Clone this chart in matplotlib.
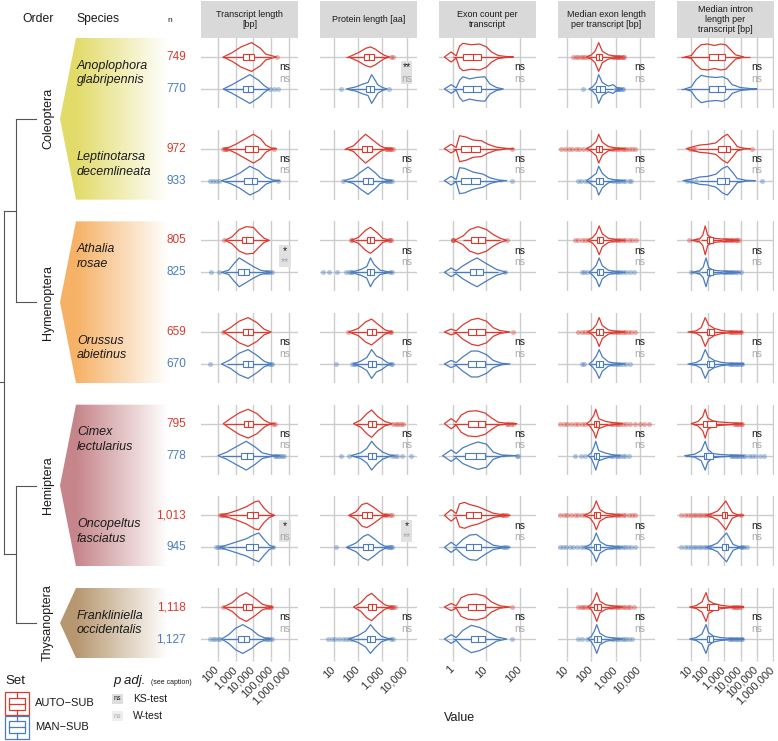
import numpy as np
import matplotlib.pyplot as plt
import matplotlib.colors as mcolors
from matplotlib.patches import Polygon, Rectangle
from matplotlib.transforms import blended_transform_factory, ScaledTranslation

plt.rcParams['font.family'] = ['Liberation Sans', 'DejaVu Sans']

# ---------------- data (values in log10 units) ----------------
ORDERS = ['Coleoptera', 'Hymenoptera', 'Hemiptera', 'Thysanoptera']
ORDER_SPAN = [(0, 1), (2, 3), (4, 5), (6, 6)]
ORDER_COLORS = ['#e2db6a', '#f6b266', '#c6858a', '#b7976f']
ORDER_PAIRS = [(0, 1), (2, 3)]

SPECIES = ['Anoplophora\nglabripennis', 'Leptinotarsa\ndecemlineata',
           'Athalia\nrosae', 'Orussus\nabietinus', 'Cimex\nlectularius',
           'Oncopeltus\nfasciatus', 'Frankliniella\noccidentalis']
N_AUTO = ['749', '972', '805', '659', '795', '1,013', '1,118']
N_MAN = ['770', '933', '825', '670', '778', '945', '1,127']

METRICS = ['Transcript length\n[bp]', 'Protein length [aa]',
           'Exon count per\ntranscript', 'Median exon length\nper transcript [bp]',
           'Median intron\nlength per\ntranscript [bp]']
TICKS = [[2, 3, 4, 5, 6], [1, 2, 3, 4], [0, 1, 2], [1, 2, 3, 4], [1, 2, 3, 4, 5, 6]]

KS_TEST = [['ns', '**', 'ns', 'ns', 'ns'],
           ['ns', 'ns', 'ns', 'ns', 'ns'],
           ['*', 'ns', 'ns', 'ns', 'ns'],
           ['ns', 'ns', 'ns', 'ns', 'ns'],
           ['ns', 'ns', 'ns', 'ns', 'ns'],
           ['*', '*', 'ns', 'ns', 'ns'],
           ['ns', 'ns', 'ns', 'ns', 'ns']]
W_TEST = [['ns', 'ns', 'ns', 'ns', 'ns'],
          ['ns', 'ns', 'ns', 'ns', 'ns'],
          ['**', 'ns', 'ns', 'ns', 'ns'],
          ['ns', 'ns', 'ns', 'ns', 'ns'],
          ['ns', 'ns', 'ns', 'ns', 'ns'],
          ['ns', '**', 'ns', 'ns', 'ns'],
          ['ns', 'ns', 'ns', 'ns', 'ns']]

# violin outlines: (log10 value, relative half width); one pair (AUTO, MAN) per species
TX_SHAPE = [
    ([(2.3, 0), (2.8, .3), (3.3, .7), (3.9, 1), (4.4, .6), (4.7, .2), (5.3, 0)],
     [(2.3, 0), (2.8, .3), (3.3, .65), (3.8, 1), (4.3, .6), (4.6, .25), (4.9, 0)]),
    ([(2.3, 0), (2.6, .08), (3.0, .3), (3.5, .65), (4.0, 1), (4.4, .7), (4.7, .25), (5.0, .05), (5.3, 0)],
     [(2.2, 0), (2.7, .2), (3.2, .5), (3.8, 1), (4.3, .7), (4.7, .25), (5.1, .05), (5.5, 0)]),
    ([(2.4, 0), (2.8, .25), (3.2, .75), (3.6, .95), (4.0, .9), (4.3, .5), (4.6, .15), (4.9, 0)],
     [(2.2, 0), (2.6, .15), (2.9, .6), (3.2, 1), (3.6, .7), (4.0, .4), (4.4, .15), (4.8, .05), (5.0, 0)]),
    ([(2.3, 0), (2.7, .3), (3.2, .75), (3.7, 1), (4.2, .65), (4.6, .2), (5.0, 0)],
     [(2.2, 0), (2.7, .3), (3.2, .75), (3.7, 1), (4.2, .6), (4.6, .2), (5.0, 0)]),
    ([(2.3, 0), (2.7, .35), (3.2, .75), (3.7, 1), (4.2, .7), (4.6, .25), (4.9, .05), (5.2, 0)],
     [(2.0, 0), (2.5, .25), (3.0, .6), (3.6, 1), (4.1, .6), (4.5, .2), (5.0, .05), (5.5, 0)]),
    ([(2.1, 0), (2.6, .15), (3.1, .35), (3.6, .6), (4.1, .95), (4.3, 1), (4.6, .5), (4.9, .15), (5.2, 0)],
     [(2.1, 0), (2.6, .2), (3.1, .4), (3.6, .6), (4.0, .85), (4.3, 1), (4.6, .55), (4.9, .15), (5.2, 0)]),
    ([(2.3, 0), (2.8, .3), (3.2, .75), (3.6, 1), (4.1, .6), (4.5, .2), (4.9, .05), (5.1, 0)],
     [(2.2, 0), (2.6, .3), (3.0, .75), (3.4, 1), (3.9, .65), (4.3, .25), (4.7, .05), (5.0, 0)]),
]
TX_BOX = [((3.4, 3.75, 4.05), (3.4, 3.7, 4.0)), ((3.55, 3.95, 4.25), (3.45, 3.9, 4.2)),
          ((3.35, 3.6, 3.95), (3.15, 3.45, 3.75)), ((3.4, 3.7, 3.95), (3.4, 3.7, 3.95)),
          ((3.45, 3.7, 4.0), (3.3, 3.65, 3.95)), ((3.65, 3.95, 4.25), (3.6, 3.95, 4.25)),
          ((3.4, 3.6, 3.9), (3.15, 3.45, 3.75))]
TX_WHISK = [((2.2, 5.0), (2.3, 4.9)), ((2.6, 5.0), (2.3, 5.2)), ((2.5, 4.85), (2.4, 4.6)),
            ((2.4, 4.9), (2.5, 4.8)), ((2.4, 5.0), (2.2, 5.0)), ((2.6, 5.1), (2.5, 5.0)),
            ((2.4, 4.7), (2.3, 4.6))]
TX_OUT = [([5.35], [4.95, 5.15, 5.4]),
          ([2.3, 2.38, 2.45, 2.52, 5.15], [1.55, 1.7, 1.9, 2.05, 5.4]),
          ([2.35], [1.6, 2.05, 4.65, 4.75, 4.85, 4.95, 5.05]),
          ([2.3], [1.55, 4.9, 5.0, 5.05]),
          ([5.1, 5.2], [5.2, 5.3, 5.4, 5.5, 5.6, 5.75]),
          ([2.1, 2.2, 2.3, 2.4, 2.5], [1.9, 2.0, 2.1, 2.2, 2.35, 5.1]),
          ([2.3, 4.75, 4.85, 4.95, 5.0], [1.55, 1.7, 1.85, 2.0, 2.1, 4.65, 4.75, 4.85, 4.95, 5.05])]

PR_SHAPE = [
    ([(1.6, 0), (2.0, .3), (2.3, .6), (2.5, .7), (2.7, .55), (2.9, .3), (3.1, .1), (3.3, 0)],
     [(1.5, 0), (1.9, .15), (2.2, .35), (2.4, .45), (2.55, 1), (2.7, .6), (2.8, .3), (3.0, .1), (3.2, 0)]),
    ([(1.5, 0), (1.8, .2), (2.1, .7), (2.3, 1), (2.6, .6), (2.9, .2), (3.1, .05), (3.4, 0)],
     [(1.4, 0), (1.8, .2), (2.1, .6), (2.4, .95), (2.7, .55), (2.9, .2), (3.2, .05), (3.4, 0)]),
    ([(1.7, 0), (2.0, .2), (2.3, .7), (2.5, .9), (2.8, .5), (3.0, .15), (3.3, 0)],
     [(1.7, 0), (2.1, .2), (2.35, .4), (2.5, 1), (2.65, .55), (2.9, .15), (3.2, .05), (3.4, 0)]),
    ([(1.6, 0), (2.0, .25), (2.3, .7), (2.55, .9), (2.8, .55), (3.1, .15), (3.4, 0)],
     [(1.8, 0), (2.1, .2), (2.35, .45), (2.55, 1), (2.75, .55), (2.95, .4), (3.2, .1), (3.4, 0)]),
    ([(1.8, 0), (2.1, .25), (2.35, .7), (2.55, .95), (2.8, .5), (3.1, .15), (3.4, 0)],
     [(1.7, 0), (2.1, .2), (2.35, .5), (2.55, 1), (2.75, .6), (3.0, .25), (3.3, .05), (3.5, 0)]),
    ([(1.6, 0), (1.9, .25), (2.15, .75), (2.35, .85), (2.6, .6), (2.8, .35), (3.0, .1), (3.3, 0)],
     [(1.5, 0), (1.9, .3), (2.2, .75), (2.4, .9), (2.65, .6), (2.9, .25), (3.1, .08), (3.3, 0)]),
    ([(1.8, 0), (2.1, .3), (2.35, .75), (2.55, .95), (2.8, .55), (3.1, .15), (3.4, 0)],
     [(1.6, 0), (2.0, .25), (2.3, .55), (2.5, 1), (2.7, .6), (2.95, .2), (3.2, .05), (3.4, 0)]),
]
PR_BOX = [((2.25, 2.45, 2.65), (2.3, 2.5, 2.65)), ((2.15, 2.35, 2.55), (2.2, 2.4, 2.6)),
          ((2.35, 2.5, 2.65), (2.35, 2.5, 2.65)), ((2.35, 2.55, 2.75), (2.4, 2.55, 2.75)),
          ((2.4, 2.55, 2.75), (2.4, 2.55, 2.75)), ((2.15, 2.35, 2.55), (2.2, 2.4, 2.6)),
          ((2.4, 2.55, 2.75), (2.35, 2.5, 2.7))]
PR_WHISK = [((1.5, 3.2), (1.6, 3.1)), ((1.4, 3.1), (1.5, 3.1)), ((1.85, 3.2), (1.8, 3.2)),
            ((1.7, 3.25), (1.85, 3.3)), ((1.9, 3.3), (1.8, 3.3)), ((1.6, 3.1), (1.5, 3.15)),
            ((1.9, 3.3), (1.8, 3.3))]
PR_OUT = [([3.35, 3.45], [1.3, 3.25]),
          ([3.15, 3.2, 3.25, 3.3, 3.35, 3.45], [1.35, 3.15, 3.2, 3.25, 3.3, 3.4]),
          ([1.7, 1.75, 3.25, 3.3, 3.35], [0.55, 0.8, 1.1, 1.5, 1.62, 1.7, 1.75, 3.3, 3.4]),
          ([1.55, 3.3, 3.35], [1.07, 1.75, 1.82, 1.88, 3.35, 3.4]),
          ([3.45, 3.55, 3.65, 3.75, 3.85], [1.28, 1.6, 3.4, 3.5, 3.6, 3.8, 4.2]),
          ([3.1, 3.2, 3.3, 3.4], [1.07, 3.2, 3.25, 3.3, 3.35, 3.4]),
          ([3.3, 3.35, 3.4, 3.45, 3.5], [0.75, 0.9, 1.05, 1.2, 1.35, 1.5, 1.62, 1.72, 3.35, 3.45])]

EX_SHAPE = [
    ([(-.25, 0), (-.05, .35), (.1, .08), (.2, .75), (.3, .95), (.55, .85), (.8, .9), (1.0, .7), (1.15, .35), (1.35, .1), (1.6, .03), (1.8, 0)],
     [(-.25, 0), (-.05, .3), (.1, .08), (.2, .6), (.3, .85), (.5, .7), (.7, .8), (.95, .85), (1.1, .35), (1.3, .1), (1.5, 0)]),
    ([(-.25, 0), (-.05, .3), (.1, .08), (.2, .9), (.4, .8), (.6, .6), (.85, .55), (1.05, .3), (1.3, .1), (1.6, .02), (1.8, 0)],
     [(-.25, 0), (-.05, .3), (.1, .08), (.2, .9), (.35, .85), (.6, .6), (.9, .45), (1.1, .2), (1.35, .05), (1.6, 0)]),
    ([(.05, 0), (.3, .3), (.5, .75), (.75, .95), (1.0, .75), (1.2, .4), (1.4, .15), (1.6, 0)],
     [(-.25, 0), (-.05, .3), (.1, .1), (.3, .45), (.55, .8), (.72, 1), (1.0, .6), (1.3, .2), (1.6, 0)]),
    ([(-.25, 0), (-.05, .2), (.1, .08), (.3, .5), (.55, .85), (.75, .95), (1.0, .75), (1.2, .3), (1.4, .1), (1.7, 0)],
     [(-.25, 0), (-.05, .25), (.1, .1), (.3, .5), (.55, .9), (.75, .9), (1.0, .65), (1.2, .25), (1.45, .05), (1.7, 0)]),
    ([(-.25, 0), (-.05, .35), (.1, .1), (.25, .6), (.45, .85), (.7, .9), (.95, .75), (1.15, .4), (1.35, .1), (1.6, .03), (1.9, 0)],
     [(-.3, 0), (-.05, .4), (.1, .15), (.3, .55), (.55, .8), (.75, .95), (1.0, .8), (1.2, .25), (1.45, .05), (1.9, 0)]),
    ([(-.25, 0), (-.05, .4), (.1, .12), (.2, .8), (.35, .9), (.5, .75), (.75, .6), (.95, .4), (1.2, .15), (1.45, .05), (1.7, 0)],
     [(-.25, 0), (-.05, .35), (.1, .1), (.3, .55), (.5, .85), (.7, .9), (.95, .5), (1.2, .15), (1.5, .03), (1.7, 0)]),
    ([(-.25, 0), (-.05, .25), (.1, .08), (.25, .65), (.45, .85), (.7, .9), (.95, .75), (1.15, .35), (1.4, .08), (1.7, 0)],
     [(-.25, 0), (-.05, .3), (.1, .1), (.3, .6), (.55, .95), (.8, .8), (1.05, .5), (1.3, .15), (1.6, 0)]),
]
EX_BOX = [((.3, .6, .85), (.3, .6, .85)), ((.25, .55, .8), (.25, .55, .8)),
          ((.55, .75, .95), (.5, .7, .9)), ((.45, .7, .95), (.45, .7, .95)),
          ((.45, .75, .95), (.35, .7, .95)), ((.4, .6, .85), (.4, .6, .85)),
          ((.45, .7, .95), (.55, .75, .95))]
EX_WHISK = [((0, 1.5), (0, 1.4)), ((0, 1.45), (0, 1.45)), ((.3, 1.4), (0, 1.35)),
            ((0, 1.45), (0, 1.45)), ((0, 1.5), (0, 1.55)), ((0, 1.45), (0, 1.45)),
            ((0, 1.45), (0, 1.4))]
EX_OUT = [([], []), ([1.75], [1.75]), ([0, 0, 0.02, 1.6], [1.55]), ([1.8], []),
          ([1.6, 1.65, 1.72, 1.8], [1.9, 1.95]), ([1.45, 1.5, 1.55, 1.6], [1.5, 1.55, 1.6]),
          ([1.75], [1.75])]

EL_SHAPE = [
    ([(1.8, 0), (2.0, .15), (2.15, .4), (2.3, 1), (2.45, .4), (2.7, .15), (3.0, .05), (3.3, 0)],
     [(1.9, 0), (2.05, .15), (2.2, .45), (2.3, 1), (2.45, .45), (2.7, .2), (2.9, .3), (3.05, .1), (3.3, 0)]),
    ([(1.8, 0), (2.0, .2), (2.2, .5), (2.3, 1), (2.45, .45), (2.7, .15), (3.0, .05), (3.4, 0)],
     [(1.8, 0), (2.0, .25), (2.2, .5), (2.3, 1), (2.45, .5), (2.7, .15), (3.0, .05), (3.4, 0)]),
    ([(1.85, 0), (2.05, .2), (2.2, .5), (2.32, 1), (2.45, .45), (2.7, .15), (3.0, .05), (3.4, 0)],
     [(1.9, 0), (2.05, .2), (2.2, .5), (2.32, 1), (2.45, .45), (2.7, .15), (3.0, .05), (3.4, 0)]),
    ([(1.85, 0), (2.05, .2), (2.2, .5), (2.32, 1), (2.45, .45), (2.7, .15), (3.0, .05), (3.4, 0)],
     [(1.9, 0), (2.05, .2), (2.2, .55), (2.32, 1), (2.45, .5), (2.7, .15), (3.0, .05), (3.4, 0)]),
    ([(1.8, 0), (1.95, .2), (2.1, .6), (2.18, 1), (2.3, .35), (2.6, .15), (3.0, .05), (3.3, 0)],
     [(1.85, 0), (2.0, .2), (2.1, .6), (2.18, 1), (2.3, .35), (2.55, .2), (2.9, .05), (3.2, 0)]),
    ([(1.7, 0), (1.95, .2), (2.1, .55), (2.2, 1), (2.35, .4), (2.6, .15), (3.0, .05), (3.3, 0)],
     [(1.7, 0), (1.95, .2), (2.1, .55), (2.2, 1), (2.35, .4), (2.6, .15), (3.0, .05), (3.3, 0)]),
    ([(1.85, 0), (2.0, .2), (2.12, .55), (2.22, 1), (2.35, .4), (2.6, .15), (3.0, .05), (3.3, 0)],
     [(1.85, 0), (2.0, .2), (2.12, .55), (2.22, 1), (2.35, .4), (2.6, .15), (3.0, .05), (3.3, 0)]),
]
EL_BOX = [((2.2, 2.3, 2.45), (2.2, 2.35, 2.55)), ((2.2, 2.3, 2.45), (2.2, 2.3, 2.5)),
          ((2.22, 2.32, 2.48), (2.22, 2.32, 2.48)), ((2.2, 2.32, 2.48), (2.2, 2.32, 2.48)),
          ((2.1, 2.2, 2.32), (2.1, 2.2, 2.3)), ((2.1, 2.2, 2.35), (2.1, 2.2, 2.35)),
          ((2.12, 2.22, 2.38), (2.12, 2.22, 2.38))]
EL_WHISK = [((1.9, 2.8), (2.0, 2.9)), ((1.9, 2.75), (1.9, 2.85)), ((1.95, 2.85), (1.95, 2.85)),
            ((1.95, 2.85), (1.95, 2.85)), ((1.8, 2.7), (1.9, 2.75)), ((1.8, 2.75), (1.8, 2.75)),
            ((1.9, 2.75), (1.9, 2.75))]
EL_OUT = [([1.25, 1.35, 1.45, 1.55, 1.65, 1.75, 1.85, 2.9, 2.95, 3.0, 3.05, 3.1, 3.15, 3.2, 3.25, 3.3, 3.35],
           [1.65, 3.0, 3.05, 3.1, 3.15, 3.2, 3.25, 3.3]),
          ([0.75, 0.9, 1.05, 1.2, 1.35, 1.5, 1.65, 1.8, 2.85, 2.95, 3.05, 3.15, 3.25, 3.35, 3.45, 3.55, 3.7, 3.8],
           [1.45, 1.55, 1.75, 1.85, 2.9, 3.0, 3.1, 3.2, 3.3, 3.4, 3.55, 3.65]),
          ([1.3, 1.45, 1.6, 1.75, 1.85, 2.9, 3.0, 3.1, 3.2, 3.3, 3.4, 3.55, 3.7, 3.85],
           [1.6, 1.7, 1.8, 2.9, 3.0, 3.1, 3.2, 3.3, 3.45, 3.6, 3.75]),
          ([1.45, 1.6, 1.75, 1.85, 2.9, 3.0, 3.1, 3.2, 3.3, 3.4, 3.5, 3.65, 3.8],
           [1.6, 1.7, 2.9, 3.0, 3.1, 3.2, 3.3, 3.45, 3.6]),
          ([0.7, 0.85, 1.0, 1.15, 1.3, 1.45, 1.6, 1.75, 2.8, 2.9, 3.0, 3.1, 3.2, 3.3, 3.45, 3.6, 3.8, 4.0, 4.2, 4.4],
           [1.3, 1.55, 1.75, 2.8, 2.9, 3.0, 3.1, 3.2, 3.3, 3.4, 3.55]),
          ([0.7, 0.85, 1.0, 1.15, 1.3, 1.45, 1.6, 1.75, 2.8, 2.9, 3.0, 3.1, 3.2, 3.3, 3.4, 3.55, 3.7, 3.8],
           [0.7, 0.8, 0.95, 1.1, 1.25, 1.4, 1.55, 1.7, 1.8, 2.8, 2.9, 3.0, 3.1, 3.2, 3.3, 3.4, 3.5, 3.65, 3.8]),
          ([1.45, 1.55, 1.65, 1.75, 1.85, 2.8, 2.9, 3.0, 3.1, 3.2, 3.3, 3.4, 3.5, 3.6, 3.75],
           [1.45, 1.6, 1.8, 2.85, 2.95, 3.05, 3.15, 3.25, 3.35, 3.45, 3.55, 3.7])]

IL_SHAPE = [
    ([(0.6, 0), (1.0, .1), (1.3, .55), (1.6, .85), (2.0, .9), (2.4, .8), (2.8, .9), (3.1, .85), (3.4, .5), (3.7, .15), (4.2, 0)],
     [(0.6, 0), (1.0, .15), (1.3, .65), (1.6, .95), (2.0, .85), (2.5, .8), (2.9, .85), (3.2, .7), (3.5, .3), (4.0, .1), (4.6, .03), (5.0, 0)]),
    ([(0.7, 0), (1.0, .1), (1.5, .25), (2.0, .3), (2.5, .4), (2.9, .8), (3.2, 1), (3.5, .6), (3.8, .15), (4.2, .03), (4.6, 0)],
     [(0.5, 0), (1.0, .1), (1.5, .25), (2.0, .3), (2.5, .45), (2.9, .85), (3.2, 1), (3.5, .6), (3.8, .15), (4.3, .03), (4.9, 0)]),
    ([(1.0, 0), (1.5, .1), (1.7, .35), (1.85, 1), (2.0, .35), (2.3, .15), (2.8, .1), (3.4, .05), (3.9, 0)],
     [(1.0, 0), (1.5, .1), (1.72, .35), (1.9, 1), (2.05, .35), (2.3, .15), (2.8, .1), (3.4, .05), (4.0, 0)]),
    ([(0.8, 0), (1.3, .08), (1.6, .3), (1.85, 1), (2.05, .5), (2.4, .25), (2.8, .12), (3.3, .05), (3.8, .02), (4.1, 0)],
     [(0.8, 0), (1.3, .1), (1.6, .3), (1.85, 1), (2.05, .5), (2.4, .25), (2.8, .12), (3.3, .05), (3.8, .02), (4.2, 0)]),
    ([(1.0, 0), (1.4, .15), (1.7, .5), (1.85, 1), (2.0, .4), (2.3, .2), (2.7, .12), (3.2, .08), (3.7, .04), (4.1, 0)],
     [(0.6, 0), (1.2, .1), (1.6, .35), (1.85, 1), (2.0, .45), (2.3, .15), (2.8, .08), (3.3, .05), (3.8, .02), (4.2, 0)]),
    ([(1.9, 0), (2.2, .1), (2.6, .3), (2.9, .7), (3.1, 1), (3.3, .6), (3.5, .2), (3.8, .05), (4.2, 0)],
     [(1.9, 0), (2.2, .1), (2.6, .3), (2.9, .7), (3.15, 1), (3.35, .6), (3.55, .2), (3.9, .05), (4.3, 0)]),
    ([(0.9, 0), (1.3, .1), (1.65, .35), (1.9, 1), (2.05, .45), (2.35, .25), (2.8, .12), (3.3, .05), (3.8, .02), (4.2, 0)],
     [(0.9, 0), (1.3, .1), (1.65, .35), (1.9, 1), (2.05, .45), (2.35, .2), (2.8, .1), (3.3, .05), (3.8, .02), (4.2, 0)]),
]
IL_BOX = [((2.1, 2.6, 3.05), (2.1, 2.6, 3.05)), ((2.6, 3.1, 3.35), (2.55, 3.05, 3.3)),
          ((1.95, 2.1, 2.35), (1.95, 2.05, 2.3)), ((1.95, 2.1, 2.4), (1.95, 2.1, 2.4)),
          ((1.7, 1.95, 2.5), (1.75, 1.9, 2.3)), ((2.85, 3.05, 3.2), (2.9, 3.1, 3.25)),
          ((1.95, 2.05, 2.6), (1.95, 2.05, 2.3))]
IL_WHISK = [((0.4, 4.6), (0.4, 4.9)), ((1.4, 4.1), (1.5, 4.2)), ((1.6, 2.9), (1.6, 2.9)),
            ((0.9, 3.1), (0.9, 3.1)), ((1.1, 3.5), (0.6, 3.2)), ((2.3, 3.8), (2.3, 3.9)),
            ((0.9, 3.5), (1.0, 3.2))]
IL_OUT = [([], []),
          ([0.9, 1.1, 1.25, 4.7], [0.75, 1.0, 1.3, 5.3]),
          ([0.85, 1.35, 3.0, 3.1, 3.2, 3.3, 3.4, 3.5, 3.6, 3.7, 3.8, 3.9],
           [1.0, 1.4, 3.0, 3.1, 3.2, 3.3, 3.4, 3.5, 3.6, 3.7, 3.85, 4.0]),
          ([3.3, 3.4, 3.5, 3.6, 3.7, 3.8, 3.95, 4.05], [3.3, 3.4, 3.5, 3.6, 3.7, 3.8, 3.9, 4.0, 4.1]),
          ([3.6, 3.7, 3.8, 3.9, 4.0, 4.1],
           [3.4, 3.5, 3.6, 3.7, 3.8, 3.9, 4.0, 4.15, 4.3, 4.5, 4.7, 4.9, 5.2, 5.45]),
          ([0.4, 0.6, 0.8, 1.0, 1.15, 1.3, 1.45, 1.6, 1.75, 1.9, 2.05, 2.2, 4.0],
           [0.4, 0.6, 0.8, 1.0, 1.15, 1.3, 1.45, 1.6, 1.75, 1.9, 2.05, 2.2, 4.0, 4.1, 4.2, 4.4]),
          ([3.55, 3.6, 3.7, 3.8, 3.9, 4.0], [3.3, 3.4, 3.5, 3.6, 3.7, 3.8, 3.9, 4.0, 4.1])]

SHAPES = [TX_SHAPE, PR_SHAPE, EX_SHAPE, EL_SHAPE, IL_SHAPE]
BOXES = [TX_BOX, PR_BOX, EX_BOX, EL_BOX, IL_BOX]
WHISKS = [TX_WHISK, PR_WHISK, EX_WHISK, EL_WHISK, IL_WHISK]
OUTS = [TX_OUT, PR_OUT, EX_OUT, EL_OUT, IL_OUT]

# ---------------- layout (pixels) ----------------
W, H = 778, 741
COL_X = [201, 320, 439, 558, 677]
PW, PH = 97, 70
TOP0, PITCH = 38, 91.67
XLIMS = [(1.04, 6.52), (0.41, 4.43), (-0.41, 2.47), (0.61, 4.64), (0.13, 6.04)]
SIG_X = [5.8, 4.0, 2.0, 4.0, 5.0]
VW, BH = 0.45, 0.09

RED, BLUE = '#dc3a2f', '#4a7cbf'
GRID = '#cccccc'
TXT = '#1a1a1a'


def draw_set(ax, shape, box, wh, out, y, col):
    xs = [p[0] for p in shape]
    ws = [p[1] * VW for p in shape]
    pts = [(x, y + w) for x, w in zip(xs, ws)] + [(x, y - w) for x, w in zip(xs[::-1], ws[::-1])]
    ax.plot(wh, [y, y], color=col, lw=0.9, zorder=3, solid_capstyle='butt')
    if out:
        ax.scatter(out, [y] * len(out), s=13, color=col, alpha=0.4, lw=0, zorder=3)
    ax.add_patch(Polygon(pts, closed=True, fill=False, ec=col, lw=0.9, zorder=4, joinstyle='round'))
    ax.add_patch(Rectangle((box[0], y - BH), box[2] - box[0], 2 * BH, fc='white', ec=col, lw=0.8, zorder=5))
    ax.plot([box[1]] * 2, [y - BH, y + BH], color=col, lw=0.8, zorder=6)


fig = plt.figure(figsize=(W / 100, H / 100), dpi=100)
bg = fig.add_axes([0, 0, 1, 1])
bg.axis('off')

# strips
for j, m in enumerate(METRICS):
    bg.add_patch(Rectangle((COL_X[j], 1), PW, TOP0 - 1, fc='#d9d9d9', ec='none'))
    bg.text(COL_X[j] + PW / 2, (TOP0 + 1) / 2, m, ha='center', va='center', fontsize=6.5,
            color=TXT, linespacing=1.1)

bg.text(38, 19, 'Order', ha='center', va='center', fontsize=8.7, color=TXT)
bg.text(76, 19, 'Species', ha='left', va='center', fontsize=8.7, color=TXT)
bg.text(167, 20, 'n', ha='left', va='center', fontsize=6, color=TXT)

# order arrows with fading fill
order_mid = []
for k, (a, b) in enumerate(ORDER_SPAN):
    top = TOP0 + a * PITCH
    bot = TOP0 + b * PITCH + PH
    mid = (top + bot) / 2
    order_mid.append(mid)
    poly = Polygon([(76, top), (168, top), (168, bot), (76, bot), (60, mid)],
                   closed=True, fc='none', ec='none', transform=bg.transData)
    bg.add_patch(poly)
    gx = np.linspace(60, 168, 220)
    a_ = np.clip((168 - gx) / (168 - 76), 0, 1)
    c = np.array(mcolors.to_rgb(ORDER_COLORS[k]))
    img = (1 - a_[:, None]) + a_[:, None] * c[None, :]
    im = bg.imshow(img[None, :, :], extent=(60, 168, bot, top), aspect='auto', zorder=1)
    im.set_clip_path(poly)
    bg.text(48, mid, ORDERS[k], rotation=90, ha='center', va='center', fontsize=9, color=TXT)

# tree
TC = '#555555'
for mid in order_mid:
    bg.plot([16, 36], [mid, mid], color=TC, lw=0.8)
node_y = []
for a, b in ORDER_PAIRS:
    bg.plot([16, 16], [order_mid[a], order_mid[b]], color=TC, lw=0.8)
    ny = (order_mid[a] + order_mid[b]) / 2
    node_y.append(ny)
    bg.plot([4, 16], [ny, ny], color=TC, lw=0.8)
bg.plot([4, 4], node_y, color=TC, lw=0.8)
root = sum(node_y) / 2
bg.plot([0, 4], [root, root], color=TC, lw=0.8)

# species labels and n
for i, sp in enumerate(SPECIES):
    top = TOP0 + i * PITCH
    yr, yb = top + 19, top + PH - 19
    bg.text(77, (yr + yb) / 2, sp, ha='left', va='center', fontsize=9, style='italic',
            color=TXT, linespacing=1.3)
    bg.text(186, yr, N_AUTO[i], ha='right', va='center', fontsize=8.5, color=RED)
    bg.text(186, yb, N_MAN[i], ha='right', va='center', fontsize=8.5, color=BLUE)

# panels
ylo, yhi = -19 / 32, 1 + 19 / 32
shift = ScaledTranslation(-4 / 100, 0, fig.dpi_scale_trans)
for i in range(len(SPECIES)):
    top = TOP0 + i * PITCH
    for j in range(len(METRICS)):
        ax = fig.add_axes([COL_X[j] / W, 1 - (top + PH) / H, PW / W, PH / H])
        ax.set_facecolor('none')
        for s in ax.spines.values():
            s.set_visible(False)
        ax.set_xlim(*XLIMS[j])
        ax.set_ylim(ylo, yhi)
        for t in TICKS[j]:
            ax.axvline(t, color=GRID, lw=1.0, zorder=1)
        ax.axhline(1, color=GRID, lw=1.0, zorder=1)
        ax.axhline(0, color=GRID, lw=1.0, zorder=1)
        ax.set_yticks([])
        ax.set_xticks(TICKS[j])
        if i == len(SPECIES) - 1:
            ax.set_xticklabels([f'{10 ** t:,}' for t in TICKS[j]], rotation=45, ha='right',
                               va='top', rotation_mode='anchor', fontsize=8, color='#333333')
            ax.tick_params(axis='x', length=2.5, color=GRID, width=1.0, pad=2)
            for lab in ax.get_xticklabels():
                lab.set_transform(lab.get_transform() + shift)
        else:
            ax.set_xticklabels([])
            ax.tick_params(axis='x', length=0)

        sh, bx, wh, ot = SHAPES[j][i], BOXES[j][i], WHISKS[j][i], OUTS[j][i]
        draw_set(ax, sh[0], bx[0], wh[0], ot[0], 1, RED)
        draw_set(ax, sh[1], bx[1], wh[1], ot[1], 0, BLUE)

        ks, wt = KS_TEST[i][j], W_TEST[i][j]
        if ks != 'ns' or wt != 'ns':
            fx = (SIG_X[j] - XLIMS[j][0]) / (XLIMS[j][1] - XLIMS[j][0])
            tr = blended_transform_factory(ax.transAxes, ax.transData)
            ax.add_patch(Rectangle((fx - 0.06, 0.17), 0.12, 0.70, transform=tr,
                                   fc='#e1e1e1', ec='none', zorder=2))
        ax.text(SIG_X[j], 0.675, ks, ha='center', va='center', fontsize=7.5, color=TXT, zorder=7)
        ax.text(SIG_X[j], 0.32, wt, ha='center', va='center', fontsize=7.5, color='#a8a8a8', zorder=7)

# x title
bg.text(460, 718, 'Value', ha='center', va='center', fontsize=9, color=TXT)

# legend: Set
bg.text(5, 681, 'Set', ha='left', va='center', fontsize=9.5, color=TXT)
for y0, col, lab in [(692, RED, 'AUTO\u2212SUB'), (715.5, BLUE, 'MAN\u2212SUB')]:
    bg.add_patch(Rectangle((5, y0), 24, 23, fc='white', ec=col, lw=0.9, zorder=2))
    bg.add_patch(Rectangle((9, y0 + 5.5), 16, 12, fc='white', ec=col, lw=0.9, zorder=3))
    bg.plot([9, 25], [y0 + 11.5] * 2, color=col, lw=0.9, zorder=4)
    bg.plot([17, 17], [y0, y0 + 5.5], color=col, lw=0.9, zorder=4)
    bg.plot([17, 17], [y0 + 17.5, y0 + 23], color=col, lw=0.9, zorder=4)
    bg.text(35, y0 + 11.5, lab, ha='left', va='center', fontsize=8, color=TXT)

# legend: p adj.
bg.text(113, 681, 'p adj.', ha='left', va='center', fontsize=9.5, style='italic', color=TXT)
bg.text(151, 682, '(see caption)', ha='left', va='center', fontsize=5, color=TXT)
for y0, fc, tc, lab in [(699, '#dedede', TXT, 'KS-test'), (716, '#eeeeee', '#a8a8a8', 'W-test')]:
    bg.add_patch(Rectangle((112, y0 - 5), 11, 10, fc=fc, ec='none'))
    bg.text(117.5, y0, 'ns', ha='center', va='center', fontsize=5, color=tc)
    bg.text(133, y0, lab, ha='left', va='center', fontsize=7.5, color=TXT)

bg.set_xlim(0, W)
bg.set_ylim(H, 0)

fig.savefig('out.png', dpi=100)
